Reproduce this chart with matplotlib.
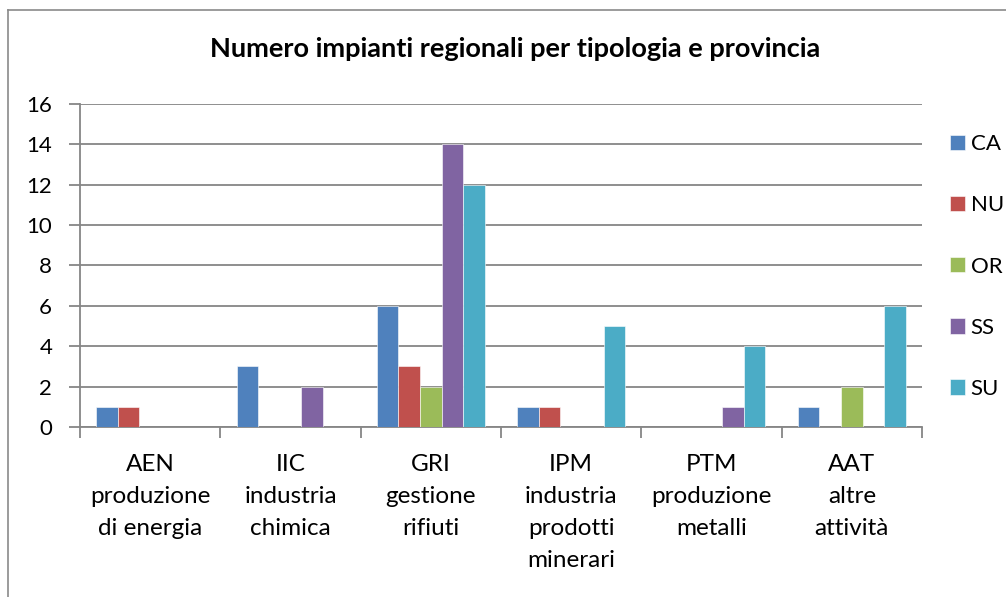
import matplotlib.pyplot as plt
import matplotlib.lines as mlines
import numpy as np

plt.rcParams['font.family'] = ['Lato', 'DejaVu Sans']

categories = ['AEN\nproduzione\ndi energia', 'IIC\nindustria\nchimica', 'GRI\ngestione\nrifiuti',
              'IPM\nindustria\nprodotti\nminerari', 'PTM\nproduzione\nmetalli', 'AAT\naltre\nattività']
series = ['CA', 'NU', 'OR', 'SS', 'SU']
ca = [1, 3, 6, 1, 0, 1]
nu = [1, 0, 3, 1, 0, 0]
or_ = [0, 0, 2, 0, 0, 2]
ss = [0, 2, 14, 0, 1, 0]
su = [0, 0, 12, 5, 4, 6]
values = [ca, nu, or_, ss, su]
colors = ['#4F81BD', '#C0504D', '#9BBB59', '#8064A2', '#4BACC6']
grid = '#868686'

fig = plt.figure(figsize=(10.06, 5.97), dpi=100)
ax = fig.add_axes([0.0795, 0.2848, 0.837, 0.5410])

n = len(series)
w = 1 / (n + 1.5)
x = np.arange(len(categories))
for i, (name, vals, c) in enumerate(zip(series, values, colors)):
    ax.bar(x - 0.5 + 0.75 * w + (i + 0.5) * w, vals, width=w, color=c, label=name,
           edgecolor='white', linewidth=0.4, zorder=3)

ax.set_xlim(-0.5, len(categories) - 0.5)
ax.set_ylim(0, 16)
ax.set_yticks(range(0, 17, 2))
ax.yaxis.grid(True, color=grid, linewidth=1.3, zorder=0)
ax.set_xticks(x)
ax.set_xticklabels(categories, fontsize=17.5, linespacing=1.64)
ax.set_xticks(np.arange(-0.5, len(categories)), minor=True)
ax.tick_params(axis='x', which='major', length=0, pad=19.5)
ax.tick_params(axis='x', which='minor', length=8, width=1.3, color=grid)
ax.tick_params(axis='y', length=8, width=1.3, color=grid, labelsize=16, pad=12)
for s in ['top', 'right']:
    ax.spines[s].set_visible(False)
for s in ['left', 'bottom']:
    ax.spines[s].set_color(grid)
    ax.spines[s].set_linewidth(1.3)

fig.text(0.512, 0.918, 'Numero impianti regionali per tipologia e provincia',
         ha='center', va='center', fontsize=19.5, fontweight='bold')

ax.legend(loc='upper left', bbox_to_anchor=(0.944, 0.775), frameon=False, fontsize=16,
          handlelength=0.68, handleheight=0.68, handletextpad=0.27, labelspacing=1.85,
          bbox_transform=fig.transFigure, borderaxespad=0, borderpad=0)

fig.add_artist(mlines.Line2D([8 / 1006, 8 / 1006], [0, 1 - 10 / 597], color='#8a8a8a', linewidth=1.2))
fig.add_artist(mlines.Line2D([8 / 1006, 1], [1 - 10 / 597, 1 - 10 / 597], color='#8a8a8a', linewidth=1.2))

fig.savefig('out.png', dpi=100)
